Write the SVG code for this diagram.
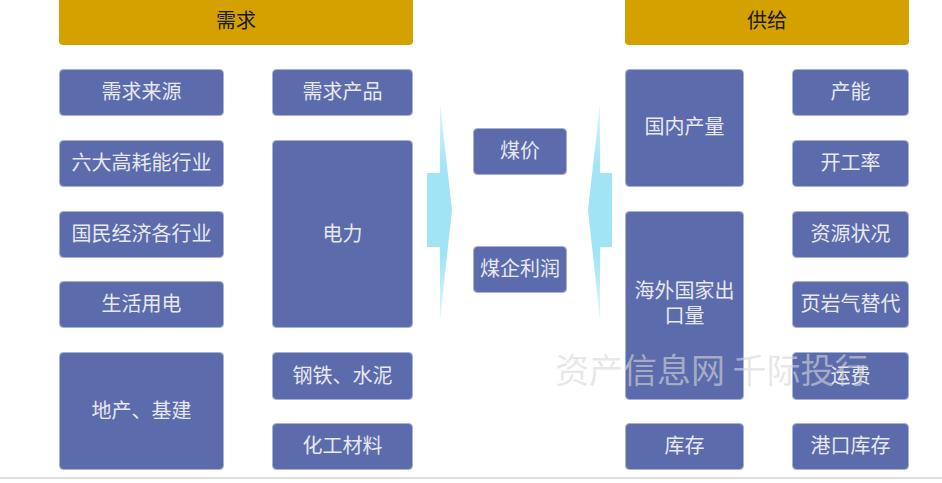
<svg xmlns="http://www.w3.org/2000/svg" width="942" height="483" viewBox="0 0 942 483">
<style>
.hdr{fill:#D5A100;}
.hdr-t{font-family:"Liberation Sans","Noto Sans CJK SC",sans-serif;font-size:20px;fill:#1a1a1a;text-anchor:middle;dominant-baseline:central;}
.box{fill:#5B6BAB;stroke:#A7B0DA;stroke-width:1;}
.t{font-family:"Liberation Sans","Noto Sans CJK SC",sans-serif;font-size:20px;fill:#E8E8F0;text-anchor:middle;dominant-baseline:central;}
.arr{fill:url(#ag);}
.wm{font-family:"Noto Sans CJK SC",sans-serif;font-size:34px;fill:#D8D8D8;fill-opacity:0.6;}
</style>
<defs>
<linearGradient id="ag" x1="0" y1="0" x2="0" y2="1">
<stop offset="0" stop-color="#A0E4F5" stop-opacity="0.3"/>
<stop offset="0.3" stop-color="#A0E4F5"/>
<stop offset="0.7" stop-color="#A0E4F5"/>
<stop offset="1" stop-color="#A0E4F5" stop-opacity="0.3"/>
</linearGradient>
</defs>
<rect width="942" height="483" fill="#fff"/>
<g id="hdr-demand"><rect class="hdr" x="59" y="-4" width="354" height="49" rx="4"/><text class="hdr-t" x="236" y="21">需求</text></g>
<g id="hdr-supply"><rect class="hdr" x="625" y="-4" width="284" height="49" rx="4"/><text class="hdr-t" x="767" y="21">供给</text></g>

<g id="connectors">
<path class="arr" d="M427,173 H440 V103 L452,210 L440,320 V247 H427 Z"/>
<path class="arr" d="M612,173 H600 V103 L588,210 L600,320 V247 H612 Z"/>
</g>

<g id="n-xqly"><rect class="box" x="59.5" y="69.5" width="164" height="46" rx="4"/><text class="t" x="141.5" y="92">需求来源</text></g>
<g id="n-ldgh"><rect class="box" x="59.5" y="140.5" width="164" height="46" rx="4"/><text class="t" x="141.5" y="163">六大高耗能行业</text></g>
<g id="n-gmjj"><rect class="box" x="59.5" y="211.5" width="164" height="46" rx="4"/><text class="t" x="141.5" y="234">国民经济各行业</text></g>
<g id="n-shyd"><rect class="box" x="59.5" y="281.5" width="164" height="46" rx="4"/><text class="t" x="141.5" y="304">生活用电</text></g>
<g id="n-dcjj"><rect class="box" x="59.5" y="352.5" width="164" height="117" rx="4"/><text class="t" x="141.5" y="411">地产、基建</text></g>

<g id="n-xqcp"><rect class="box" x="272.5" y="69.5" width="140" height="46" rx="4"/><text class="t" x="342.5" y="92">需求产品</text></g>
<g id="n-dl"><rect class="box" x="272.5" y="140.5" width="140" height="187" rx="4"/><text class="t" x="342.5" y="234">电力</text></g>
<g id="n-gtsn"><rect class="box" x="272.5" y="352.5" width="140" height="47" rx="4"/><text class="t" x="342.5" y="376">钢铁、水泥</text></g>
<g id="n-hgcl"><rect class="box" x="272.5" y="423.5" width="140" height="46" rx="4"/><text class="t" x="342.5" y="446">化工材料</text></g>

<g id="n-mj"><rect class="box" x="473.5" y="128.5" width="93" height="46" rx="4"/><text class="t" x="520" y="151">煤价</text></g>
<g id="n-mqlr"><rect class="box" x="473.5" y="246.5" width="93" height="46" rx="4"/><text class="t" x="520" y="269">煤企利润</text></g>

<g id="n-gncl"><rect class="box" x="625.5" y="69.5" width="118" height="117" rx="4"/><text class="t" x="684.5" y="127">国内产量</text></g>
<g id="n-hwck"><rect class="box" x="625.5" y="211.5" width="118" height="188" rx="4"/><text class="t" x="684.5" y="291">海外国家出</text><text class="t" x="684.5" y="316">口量</text></g>
<g id="n-kc"><rect class="box" x="625.5" y="423.5" width="118" height="46" rx="4"/><text class="t" x="684.5" y="446">库存</text></g>

<g id="n-cn"><rect class="box" x="792.5" y="69.5" width="116" height="46" rx="4"/><text class="t" x="850.5" y="92">产能</text></g>
<g id="n-kgl"><rect class="box" x="792.5" y="140.5" width="116" height="46" rx="4"/><text class="t" x="850.5" y="163">开工率</text></g>
<g id="n-zyzk"><rect class="box" x="792.5" y="211.5" width="116" height="46" rx="4"/><text class="t" x="850.5" y="234">资源状况</text></g>
<g id="n-yyq"><rect class="box" x="792.5" y="281.5" width="116" height="46" rx="4"/><text class="t" x="850.5" y="304">页岩气替代</text></g>
<g id="n-yf"><rect class="box" x="792.5" y="352.5" width="116" height="47" rx="4"/><text class="t" x="850.5" y="376">运费</text></g>
<g id="n-gkkc"><rect class="box" x="792.5" y="423.5" width="116" height="46" rx="4"/><text class="t" x="850.5" y="446">港口库存</text></g>

<line x1="0" y1="478" x2="942" y2="478" stroke="#D4D4D4" stroke-width="1.5"/>
<text class="wm" x="555" y="383">资产信息网 千际投行</text>
</svg>
